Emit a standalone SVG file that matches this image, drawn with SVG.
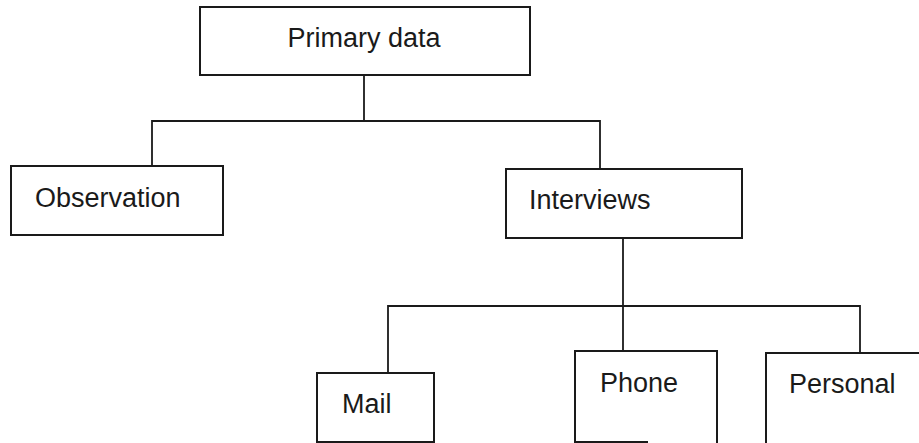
<svg xmlns="http://www.w3.org/2000/svg" width="919" height="443" viewBox="0 0 919 443">
  <style>
    .box { fill: #ffffff; stroke: #1a1a1a; stroke-width: 2; }
    .edge { fill: none; stroke: #1a1a1a; stroke-width: 1.8; }
    .label { font-family: "Liberation Sans", Arial, sans-serif; font-size: 27px; fill: #1a1a1a; }
  </style>
  <rect width="919" height="443" fill="#ffffff"/>

  <!-- connectors -->
  <g id="connectors">
    <path class="edge" d="M364,75 V121"/>
    <path class="edge" d="M152,166 V121 H600 V169"/>
    <path class="edge" d="M623,238 V306"/>
    <path class="edge" d="M388,373 V306 H860 V353"/>
    <path class="edge" d="M623,306 V351"/>
  </g>

  <g id="node-primary">
    <rect class="box" x="200" y="7" width="330" height="68"/>
    <text class="label" x="364" y="47" text-anchor="middle">Primary data</text>
  </g>

  <g id="node-observation">
    <rect class="box" x="11" y="166" width="212" height="69"/>
    <text class="label" x="35" y="207">Observation</text>
  </g>

  <g id="node-interviews">
    <rect class="box" x="506" y="169" width="236" height="69"/>
    <text class="label" x="529" y="209">Interviews</text>
  </g>

  <g id="node-mail">
    <rect class="box" x="317" y="373" width="117" height="69"/>
    <text class="label" x="342" y="413">Mail</text>
  </g>

  <g id="node-phone">
    <path class="box" d="M648,442 H575 V351 H717 V443"/>
    <text class="label" x="600" y="392">Phone</text>
  </g>

  <g id="node-personal">
    <path class="box" d="M766,443 V353 H920"/>
    <text class="label" x="789" y="393">Personal</text>
  </g>
</svg>
